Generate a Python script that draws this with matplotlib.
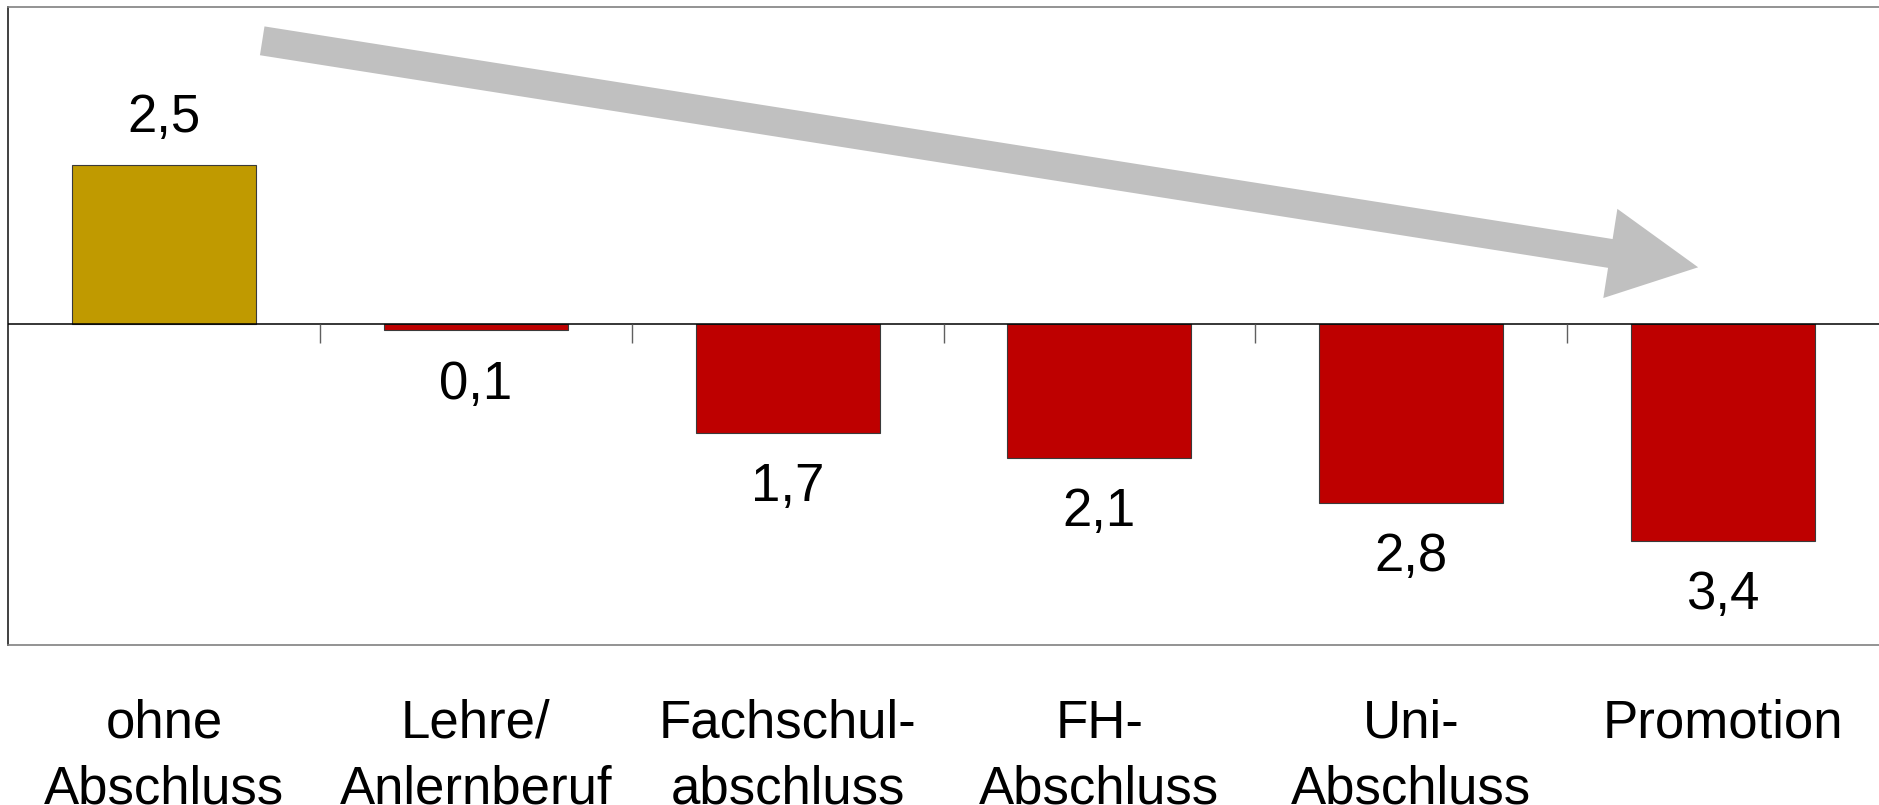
import matplotlib.pyplot as plt
import matplotlib.transforms as mtransforms

plt.rcParams['font.family'] = ['Liberation Sans', 'DejaVu Sans']

# Data
categories = ['ohne\nAbschluss', 'Lehre/\nAnlernberuf', 'Fachschul-\nabschluss',
              'FH-\nAbschluss', 'Uni-\nAbschluss', 'Promotion']
values = [2.5, -0.1, -1.7, -2.1, -2.8, -3.4]
value_labels = ['2,5', '0,1', '1,7', '2,1', '2,8', '3,4']

gold = '#C09A00'
red = '#BE0000'
colors = [gold if v > 0 else red for v in values]

fig = plt.figure(figsize=(18.79, 8.05), dpi=100)
ax = fig.add_axes([0.0043, 0.1988, 0.9957, 0.7925])

x = list(range(len(categories)))
ax.bar(x, values, width=0.59, color=colors, edgecolor='#3a3a3a', linewidth=0.8, zorder=2)

ax.set_xlim(-0.5, len(categories) - 0.5)
ax.set_ylim(-5.03, 4.97)

# zero line and boundary ticks
ax.axhline(0, color='black', linewidth=1.1, zorder=3)
bounds = [i + 0.5 for i in range(len(categories) - 1)]
ax.vlines(bounds, -0.3, 0, color='#606060', linewidth=1.0, zorder=3)

ax.set_xticks([])
ax.set_yticks([])
ax.spines['right'].set_visible(False)
ax.spines['top'].set_color('#808080')
ax.spines['bottom'].set_color('#808080')
ax.spines['left'].set_color('#202020')
for s in ['top', 'bottom', 'left']:
    ax.spines[s].set_linewidth(1.2)

# value labels
for xi, v, lab in zip(x, values, value_labels):
    if v > 0:
        ax.annotate(lab, xy=(xi, v), xytext=(0, 23.5), textcoords='offset points',
                    ha='center', va='baseline', fontsize=38)
    else:
        ax.annotate(lab, xy=(xi, v), xytext=(0, -21), textcoords='offset points',
                    ha='center', va='top', fontsize=38)

# category labels below the frame
trans = mtransforms.blended_transform_factory(ax.transData, ax.transAxes)
for xi, cat in zip(x, categories):
    ax.text(xi, -0.084, cat, transform=trans, ha='center', va='top',
            fontsize=38, linespacing=1.4, multialignment='center', clip_on=False)

# trend arrow
ax.annotate('', xy=(4.92, 0.89), xytext=(0.315, 4.44),
            arrowprops=dict(arrowstyle='simple,head_length=64,head_width=65,tail_width=21',
                            mutation_scale=1, color='#C0C0C0', lw=0,
                            shrinkA=0, shrinkB=0), zorder=1)

plt.savefig('out.png', dpi=100)
